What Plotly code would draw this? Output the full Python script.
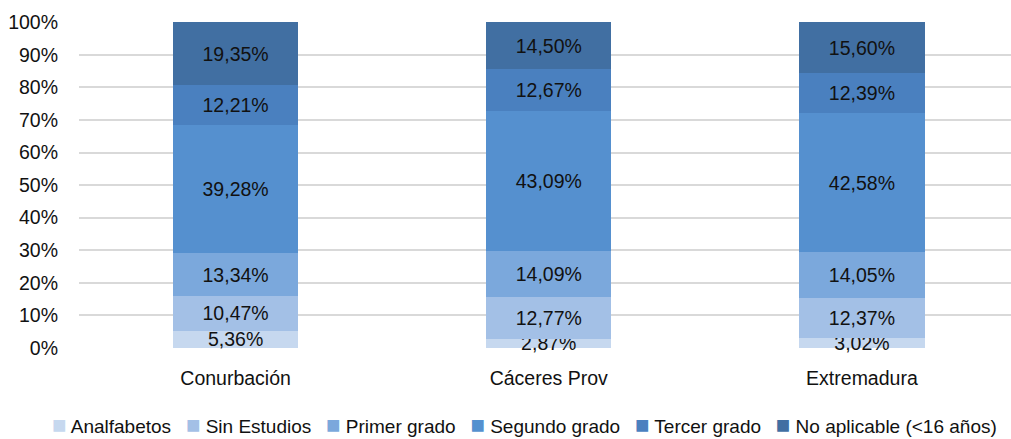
import plotly.graph_objects as go

# Nivel de estudios por ámbito territorial (% de población)
regiones = ["Conurbación", "Cáceres Prov", "Extremadura"]

niveles = [
    "Analfabetos",
    "Sin Estudios",
    "Primer grado",
    "Segundo grado",
    "Tercer grado",
    "No aplicable (<16 años)",
]

analfabetos = [5.36, 2.87, 3.02]
sin_estudios = [10.47, 12.77, 12.37]
primer_grado = [13.34, 14.09, 14.05]
segundo_grado = [39.28, 43.09, 42.58]
tercer_grado = [12.21, 12.67, 12.39]
no_aplicable = [19.35, 14.50, 15.60]

series = [analfabetos, sin_estudios, primer_grado, segundo_grado, tercer_grado, no_aplicable]
colores = ["#c6d8ef", "#a3c0e6", "#7ba8dc", "#5590cf", "#4a80bf", "#416fa2"]

FUENTE = "Liberation Sans, Arial, sans-serif"
TAM = 19.5
TAM_LEYENDA = 19


def pct(v):
    return f"{v:.2f}".replace(".", ",") + "%"


fig = go.Figure()
for nombre, valores, color in zip(niveles, series, colores):
    fig.add_trace(go.Bar(
        name=nombre,
        x=regiones,
        y=valores,
        width=0.4,
        marker=dict(color=color, line=dict(width=0)),
        text=[pct(v) for v in valores],
        textposition="inside",
        insidetextanchor="middle",
        constraintext="none",
        cliponaxis=False,
        textfont=dict(family=FUENTE, size=TAM, color="#111111"),
        hoverinfo="skip",
        showlegend=False,
    ))

# Leyenda compacta en una sola línea: cuadro de color pegado a cada nombre
entradas = [
    f'<span style="color:{c};font-size:24px">■</span> {n}'
    for n, c in zip(niveles, colores)
]
fig.add_annotation(
    text="\u2002 ".join(entradas),
    xref="paper",
    yref="paper",
    x=0.4785,
    y=-0.234,
    xanchor="center",
    yanchor="middle",
    showarrow=False,
    font=dict(family=FUENTE, size=TAM_LEYENDA, color="#111111"),
)

fig.update_layout(
    barmode="stack",
    width=1011,
    height=439,
    margin=dict(l=79, r=0, t=22, b=91),
    paper_bgcolor="white",
    plot_bgcolor="white",
    font=dict(family=FUENTE, size=TAM, color="#111111"),
    showlegend=False,
    xaxis=dict(
        range=[-0.5, 2.476],
        showgrid=False,
        showline=False,
        zeroline=False,
        ticks="",
        automargin=False,
        ticklabelstandoff=16,
        tickfont=dict(family=FUENTE, size=TAM, color="#111111"),
    ),
    yaxis=dict(
        range=[0, 100.05],
        tickvals=[0, 10, 20, 30, 40, 50, 60, 70, 80, 90, 100],
        ticktext=[f"{v}%" for v in range(0, 101, 10)],
        showgrid=True,
        gridcolor="#d9d9d9",
        gridwidth=1.5,
        zeroline=False,
        showline=False,
        ticks="",
        automargin=False,
        ticklabelstandoff=20,
        tickfont=dict(family=FUENTE, size=TAM, color="#111111"),
    ),
)

fig.write_html("out.html")
